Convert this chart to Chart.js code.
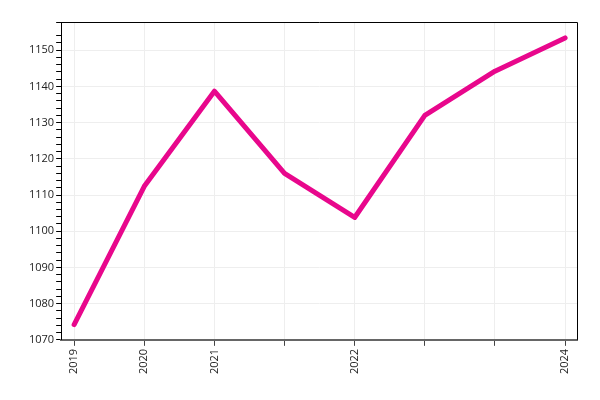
<!DOCTYPE html>
<html>
<head>
<meta charset="utf-8">
<script src="https://cdn.jsdelivr.net/npm/chart.js@4/dist/chart.umd.min.js"></script>
<style>
  html, body { margin: 0; padding: 0; background: #fff; }
  #wrap { width: 600px; height: 400px; }
</style>
</head>
<body>
<div id="wrap"><canvas id="chart"></canvas></div>
<script>
// --- Chart data ---
const yearLabels = ['2019', '2020', '2021', '', '2022', '', '', '2024'];
const seriesValues = [1074.2, 1112.4, 1138.7, 1116.0, 1103.8, 1132.0, 1144.2, 1153.4];
const yMin = 1070;
const yMax = 1157.8;

const points = seriesValues.map((v, i) => ({ x: i, y: v }));

// top and right frame lines around the plot area
const frame = {
    id: 'frame',
    afterDraw(chart) {
        const { ctx, chartArea: a } = chart;
        ctx.save();
        ctx.strokeStyle = '#000';
        ctx.lineWidth = 1;
        ctx.beginPath();
        ctx.moveTo(a.left, a.top + 0.5);
        ctx.lineTo(a.right + 0.5, a.top + 0.5);
        ctx.lineTo(a.right + 0.5, a.bottom);
        ctx.stroke();
        ctx.restore();
    }
};

const isMajor = v => Math.abs(v % 10) < 1e-6;

new Chart(document.getElementById('chart'), {
    type: 'line',
    data: {
        datasets: [{
            data: points,
            borderColor: '#e8078c',
            borderWidth: 5,
            borderCapStyle: 'round',
            borderJoinStyle: 'round',
            pointRadius: 0,
            tension: 0
        }]
    },
    options: {
        responsive: true,
        maintainAspectRatio: false,
        animation: false,
        layout: { padding: { left: 27, right: 23, top: 22, bottom: 23 } },
        plugins: { legend: { display: false }, tooltip: { enabled: false } },
        scales: {
            x: {
                type: 'linear',
                min: -0.185,
                max: 7.17,
                afterBuildTicks: scale => {
                    scale.ticks = yearLabels.map((_, i) => ({ value: i }));
                },
                border: { color: '#666', width: 2 },
                grid: { color: '#eeeeee', tickColor: '#444', tickLength: 6 },
                ticks: {
                    autoSkip: false,
                    minRotation: 90,
                    maxRotation: 90,
                    padding: 3,
                    color: '#222',
                    font: { family: 'Open Sans', size: 11 },
                    callback: v => yearLabels[v] ?? ''
                }
            },
            y: {
                min: yMin,
                max: yMax,
                border: { color: '#000', width: 1 },
                grid: {
                    color: c => (c.tick && isMajor(c.tick.value)) ? '#eeeeee' : 'rgba(0,0,0,0)',
                    tickColor: '#000',
                    tickLength: 5
                },
                ticks: {
                    stepSize: 2,
                    autoSkip: false,
                    padding: 2,
                    color: '#222',
                    font: { family: 'Open Sans', size: 11 },
                    callback: v => isMajor(v) ? v : ''
                }
            }
        }
    },
    plugins: [frame]
});
</script>
</body>
</html>
